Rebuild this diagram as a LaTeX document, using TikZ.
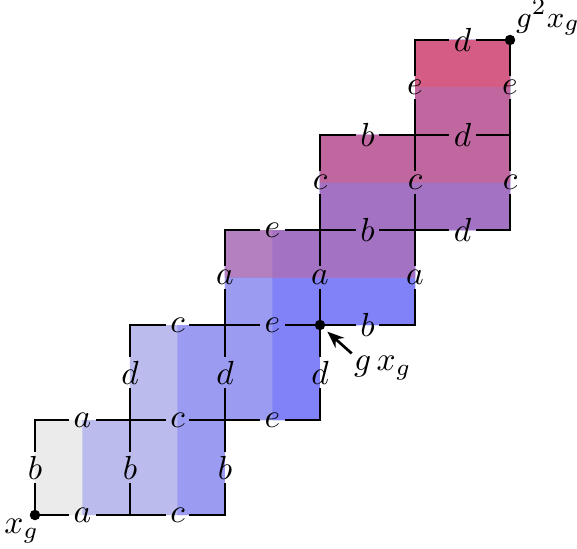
\documentclass[tikz,border=0pt]{standalone}
\usetikzlibrary{arrows.meta}
\definecolor{cgray}{HTML}{EBEBEB}
\definecolor{clight}{HTML}{BBBBEE}
\definecolor{cmed}{HTML}{9B9BF2}
\definecolor{cdark}{HTML}{8282F8}
\definecolor{cpink}{HTML}{B480C0}
\definecolor{cpurp}{HTML}{A472C2}
\definecolor{cmag}{HTML}{C0679F}
\definecolor{cred}{HTML}{D45C85}
\tikzset{
  lbl/.style={inner sep=1.5pt, font=\fontsize{10}{12}\selectfont},
  edge/.style={line width=0.8pt, line cap=rect},
  dot/.style={fill=black},
  txt/.style={font=\fontsize{10}{12}\selectfont, inner sep=0.5pt}
}
\begin{document}
\begin{tikzpicture}
\useasboundingbox (-0.368,-0.347) rectangle (5.705,5.421);
\foreach \i in {0,...,5}{\foreach \j in {0,...,5}{\coordinate (p\i\j) at (\i,\j);}}
% shading, layered so each later layer covers the seams
\fill[cgray] (0,0) -- (2,0) -- (2,1) -- (3,1) -- (3,2) -- (4,2) -- (4,3) -- (5,3) -- (5,5) -- (4,5) -- (4,4) -- (3,4) -- (3,3) -- (2,3) -- (2,2) -- (1,2) -- (1,1) -- (0,1) -- cycle;
\fill[clight] (0.5,0) -- (2,0) -- (2,1) -- (3,1) -- (3,2) -- (4,2) -- (4,3) -- (5,3) -- (5,5) -- (4,5) -- (4,4) -- (3,4) -- (3,3) -- (2,3) -- (2,2) -- (1,2) -- (1,1) -- (0.5,1) -- cycle;
\fill[cmed] (1.5,0) -- (2,0) -- (2,1) -- (3,1) -- (3,2) -- (4,2) -- (4,3) -- (5,3) -- (5,5) -- (4,5) -- (4,4) -- (3,4) -- (3,3) -- (2,3) -- (2,2) -- (1.5,2) -- cycle;
\fill[cdark] (2.5,1) -- (3,1) -- (3,2) -- (4,2) -- (4,3) -- (5,3) -- (5,5) -- (4,5) -- (4,4) -- (3,4) -- (3,3) -- (2,3) -- (2,2.5) -- (2.5,2.5) -- cycle;
\fill[cpink] (2,2.5) -- (4,2.5) -- (4,3) -- (5,3) -- (5,5) -- (4,5) -- (4,4) -- (3,4) -- (3,3) -- (2,3) -- cycle;
\fill[cpurp] (2.5,2.5) -- (4,2.5) -- (4,3) -- (5,3) -- (5,5) -- (4,5) -- (4,4) -- (3,4) -- (3,3) -- (2.5,3) -- cycle;
\fill[cmag] (3,3.5) -- (5,3.5) -- (5,5) -- (4,5) -- (4,4) -- (3,4) -- cycle;
\fill[cred] (4,4.5) -- (5,4.5) -- (5,5) -- (4,5) -- cycle;
% edges
\foreach \a/\b/\l [count=\k] in {00/10/a,10/20/c,01/11/a,11/21/c,21/31/e,12/22/c,22/32/e,32/42/b,23/33/e,33/43/b,43/53/d,34/44/b,44/54/d,45/55/d,
  00/01/b,10/11/b,11/12/d,20/21/b,21/22/d,22/23/a,31/32/d,32/33/a,33/34/c,42/43/a,43/44/c,44/45/e,53/54/c,54/55/e}{
  \path (p\a) -- node[lbl] (L\k) {$\l$} (p\b);
  \draw[edge] (p\a) -- (L\k) (L\k) -- (p\b);
}
% dots
\fill[dot] (p00) circle (0.055);
\fill[dot] (p32) circle (0.055);
\fill[dot] (p55) circle (0.055);
\node[txt] (xg) at (-0.14,-0.17) {$x_g$};
\node[txt, anchor=west, font=\fontsize{9.5}{11}\selectfont] (g2xg) at (5.04,5.24) {$g^2x_g$};
\node[txt] (gxg) at (3.66,1.55) {$g\,x_g$};
\draw[line width=0.8pt, -{Stealth[length=5pt,width=4pt]}, shorten >=3pt] (gxg.north west) -- (p32);
\end{tikzpicture}
\end{document}
